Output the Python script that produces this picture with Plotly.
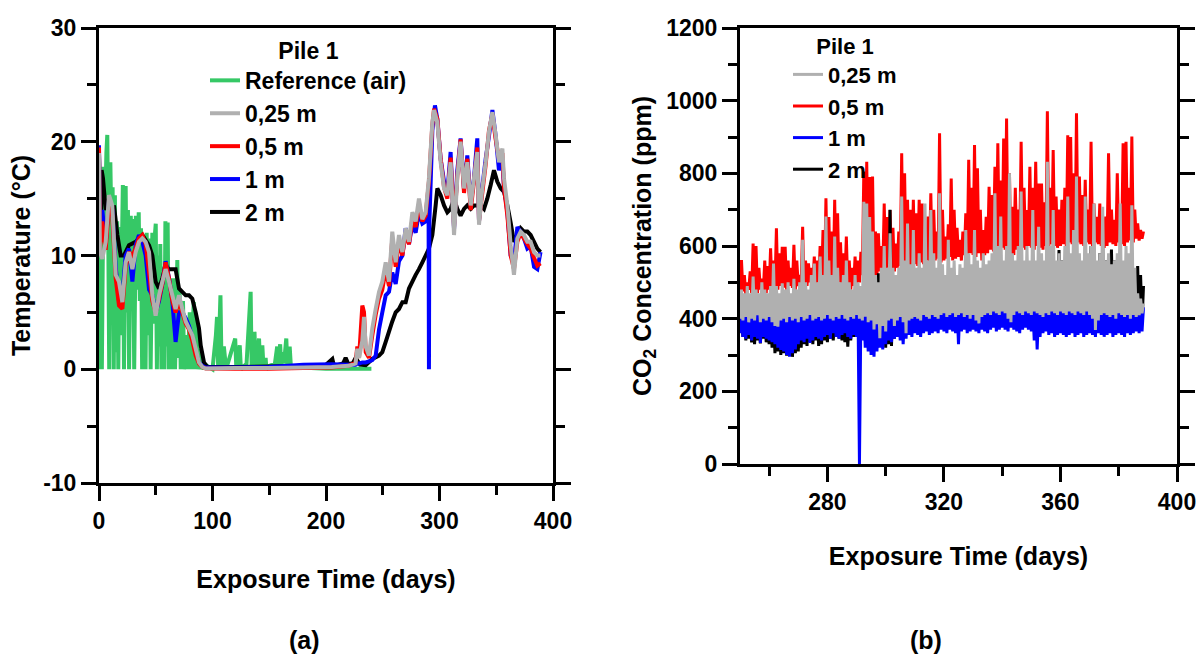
import plotly.graph_objects as go

# ---------------- Panel (a): temperature, Pile 1 ----------------
air_days = [0, 0.8, 1.5, 2.5, 4.0, 5.0, 6.5, 7.3, 8.0, 9.0,
            10, 11, 12, 13, 14, 15, 16, 17, 18, 19,
            21, 22, 23.5, 24.5, 25.5, 26.5, 28, 29, 30, 31,
            32.5, 33.5, 35, 36, 37, 38, 40, 41, 42, 43,
            44.5, 45.5, 47, 48, 49, 50, 51, 52, 53, 54,
            55, 56.5, 57.5, 58.5, 59.5, 60.5, 61.5, 63, 64, 66,
            67, 69, 70, 71, 72, 74, 75, 77, 78, 80,
            81, 83.5, 84.5, 86, 87, 89, 90, 92, 100, 103,
            104, 105, 107, 108, 110, 112, 120, 121, 124, 125,
            130, 133.6, 134.5, 137, 138, 141, 142, 143.9, 145, 146.8,
            147.5, 150, 155, 157, 158, 159.6, 160.5, 162, 163, 165,
            166, 168, 169, 170, 200, 240]
air_temp = [11.0, 0.0, 10.0, 0.0, 17.8, 12.0, 19.0, 20.6, 14.0, 0.0,
            18.2, 12.0, 16.0, 0.0, 15.3, 1.5, 13.0, 0.0, 12.5, 3.0,
            16.2, 0.0, 16.1, 5.0, 14.0, 0.0, 13.5, 7.0, 13.2, 0.0,
            13.5, 7.0, 13.8, 6.0, 12.4, 0.0, 11.5, 0.0, 12.0, 3.0,
            11.5, 0.0, 12.0, 4.0, 11.5, 12.8, 0.0, 10.0, 2.0, 11.0,
            0.0, 9.0, 0.0, 13.0, 2.0, 12.9, 0.0, 8.0, 0.0, 8.0,
            0.0, 9.6, 1.0, 7.0, 0.0, 6.0, 0.0, 3.0, 0.0, 5.0,
            0.0, 5.9, 0.0, 4.0, 0.0, 1.8, 0.0, 0.5, 0.0, 3.0,
            4.6, 0.0, 6.5, 0.0, 2.0, 0.0, 2.7, 0.0, 2.1, 0.0,
            0.5, 6.8, 0.0, 3.3, 0.0, 2.7, 0.0, 2.1, 0.0, 1.0,
            0.0, 0.3, 0.5, 2.0, 0.3, 2.2, 0.3, 1.5, 0.5, 2.7,
            0.3, 2.0, 0.3, 0.2, 0.05, 0.05]

soil_days = [0, 0.8, 2.9, 5.9, 8.8, 11.7, 14.7, 17.6, 20.6, 23.5,
             26.4, 29.4, 32.3, 35.2, 38.2, 41.1, 44.1, 47.0, 49.9, 52.9,
             55.8, 58.7, 61.7, 64.6, 67.5, 70.5, 73.4, 76.4, 79.3, 82.2,
             85.2, 88.1, 91.0, 94.0, 120, 150, 180, 205, 220, 226,
             227.6, 229.1, 232.0, 233.5, 235.0, 237.9, 240.8, 243.8, 246.7, 249.6,
             252.6, 255.5, 258.4, 261.4, 264.3, 267.3, 270.2, 273.1, 276.1, 279.0,
             281.9, 284.9, 287.8, 290.7, 293.7, 295.2, 298.1, 301.0, 304.0, 306.9,
             309.8, 312.8, 315.7, 318.6, 321.6, 324.5, 327.5, 330.4, 333.3, 334.8,
             337.7, 340.7, 343.6, 346.6, 349.5, 352.4, 355.4, 356.8, 359.8, 362.7,
             365.6, 368.6, 371.5, 374.4, 377.4, 380.3, 383.3, 386.2, 389.0]
temp_025m = [19.0, 10.3, 9.7, 11.2, 15.3, 14.4, 8.3, 7.7, 5.9, 9.4,
             10.3, 8.8, 10.3, 11.2, 11.5, 11.2, 10.3, 6.5, 4.7, 6.5,
             7.7, 8.8, 7.7, 6.5, 5.3, 6.5, 5.3, 4.2, 3.6, 3.0,
             1.8, 0.6, 0.2, 0.06, 0.1, 0.1, 0.15, 0.2, 0.3, 0.5,
             1.8, 1.0, 2.5, 4.6, 2.0, 1.2, 3.6, 5.3, 6.8, 7.7,
             9.4, 7.7, 12.1, 9.4, 11.8, 10.3, 12.4, 11.2, 13.8, 13.0,
             15.0, 13.2, 13.8, 16.8, 21.7, 22.8, 21.7, 18.2, 15.9, 15.3,
             18.2, 11.8, 16.8, 20.0, 15.9, 18.2, 14.4, 16.8, 19.1, 12.7,
             15.9, 18.2, 20.9, 22.6, 20.6, 18.2, 19.4, 16.8, 14.4, 10.9,
             8.3, 11.5, 12.1, 11.8, 11.2, 11.2, 10.3, 10.0, 10.0]
temp_05m = [19.5, 10.5, 13.0, 10.5, 14.5, 13.5, 8.0, 5.6, 5.3, 9.0,
            10.3, 10.0, 10.6, 11.5, 11.8, 11.0, 8.5, 6.0, 5.0, 6.2,
            7.5, 9.4, 8.0, 6.0, 5.0, 6.0, 5.0, 4.0, 3.5, 2.5,
            1.2, 0.5, 0.2, 0.06, 0.05, 0.05, 0.1, 0.15, 0.3, 0.6,
            2.0, 1.0, 5.6, 5.0, 1.5, 1.0, 3.0, 4.8, 6.2, 7.0,
            8.8, 7.3, 11.5, 9.0, 11.2, 10.0, 12.0, 11.0, 13.2, 12.5,
            14.5, 13.0, 13.5, 16.5, 21.5, 22.9, 22.0, 18.5, 16.0, 15.0,
            18.6, 12.5, 17.0, 20.2, 15.5, 18.5, 14.0, 16.5, 19.5, 13.0,
            15.5, 18.0, 21.0, 22.4, 20.2, 18.5, 19.0, 16.0, 13.5, 10.0,
            8.8, 11.2, 12.0, 11.5, 11.0, 10.6, 9.8, 9.1, 9.3]

days_1m = [0, 0.8, 2.9, 5.9, 8.8, 11.7, 14.7, 17.6, 20.6, 23.5,
           26.4, 29.4, 32.3, 35.2, 38.2, 41.1, 44.1, 47.0, 49.9, 52.9,
           55.8, 58.7, 61.7, 64.6, 67.5, 70.5, 73.4, 76.4, 79.3, 82.2,
           85.2, 88.1, 91.0, 94.0, 120, 150, 180, 205, 220, 226,
           227.6, 229.1, 232.0, 233.5, 235.0, 237.9, 240.8, 243.8, 246.7, 249.6,
           252.6, 255.5, 258.4, 261.4, 264.3, 267.3, 270.2, 273.1, 276.1, 279.0,
           281.9, 284.9, 287.8, 290.4, 290.7, 291.0, 293.7, 296.0, 298.1, 301.0,
           304.0, 306.9, 309.8, 312.8, 315.7, 318.6, 321.6, 324.5, 327.5, 330.4,
           333.3, 334.8, 337.7, 340.7, 343.6, 346.6, 349.5, 352.4, 355.4, 356.8,
           359.8, 362.7, 365.6, 368.6, 371.5, 374.4, 377.4, 380.3, 383.3, 386.2,
           389.0]
temp_1m = [19.7, 11.0, 14.0, 11.0, 14.8, 14.0, 9.0, 6.0, 6.5, 10.0,
           10.6, 7.7, 10.9, 11.8, 11.2, 10.0, 7.0, 6.5, 5.0, 6.0,
           7.5, 9.5, 8.0, 6.0, 2.4, 5.0, 5.0, 4.5, 3.8, 2.8,
           1.5, 0.6, 0.3, 0.15, 0.15, 0.2, 0.4, 0.45, 0.4, 0.4,
           0.5, 0.5, 0.6, 0.6, 0.6, 0.7, 0.8, 1.2, 3.5, 5.0,
           6.5, 6.8, 8.5, 7.5, 9.5, 10.0, 12.4, 11.0, 12.8, 12.0,
           13.8, 12.8, 13.0, 13.5, 0.0, 12.7, 21.0, 23.2, 22.0, 18.5,
           16.5, 15.5, 19.1, 12.3, 17.5, 20.3, 15.8, 18.8, 14.5, 16.8,
           20.3, 13.0, 16.0, 18.5, 20.5, 22.8, 20.5, 17.5, 18.5, 16.0,
           13.8, 10.0, 9.4, 12.5, 12.1, 11.5, 10.6, 10.8, 9.0, 8.8,
           10.3]

days_2m = [0, 1.5, 2.3, 3.5, 5.9, 8.8, 11.7, 13.2, 16.2, 19.1,
           22.0, 26.4, 32.3, 38.2, 44.1, 47.0, 49.9, 52.9, 55.8, 58.7,
           61.7, 64.6, 67.5, 70.5, 73.4, 76.4, 79.3, 82.2, 85.2, 88.1,
           89.6, 92.5, 95.4, 120, 150, 180, 200, 205.6, 207, 215,
           217.3, 220, 224, 226.1, 230, 235, 240.8, 246.7, 249.6, 252.6,
           255.5, 258.4, 261.4, 264.3, 267.3, 270.2, 273.1, 276.1, 279.0, 281.9,
           284.9, 287.8, 290.7, 293.7, 296.6, 298.1, 301.0, 304.0, 306.9, 309.8,
           312.8, 315.7, 318.6, 321.6, 324.5, 327.5, 330.4, 333.3, 336.3, 339.2,
           342.1, 345.1, 348.0, 350.9, 353.9, 356.8, 359.8, 362.7, 365.6, 368.6,
           371.5, 374.4, 377.4, 380.3, 383.3, 386.2, 389.0]
temp_2m = [19.0, 12.0, 17.5, 16.8, 14.0, 15.0, 14.0, 14.4, 11.8, 10.0,
           10.0, 10.9, 11.2, 11.8, 10.9, 10.0, 7.7, 7.1, 8.0, 9.1,
           8.8, 8.8, 8.8, 7.1, 6.8, 6.5, 6.5, 6.2, 5.0, 3.6,
           2.1, 0.6, 0.2, 0.2, 0.25, 0.3, 0.4, 0.9, 0.3, 0.5,
           1.0, 0.4, 0.6, 1.0, 0.4, 0.35, 0.9, 1.2, 1.5, 2.4,
           3.3, 4.2, 5.0, 5.3, 5.9, 5.9, 7.1, 7.7, 8.3, 8.8,
           9.4, 10.0, 10.6, 11.8, 14.4, 15.9, 15.3, 14.4, 13.8, 14.1,
           15.0, 14.1, 13.5, 14.1, 14.4, 14.1, 14.4, 14.4, 14.4, 14.1,
           15.0, 16.2, 17.5, 16.5, 15.9, 15.6, 14.4, 12.9, 11.2, 11.8,
           12.4, 12.1, 12.1, 11.8, 11.2, 10.6, 10.3]

temp_ticks = [-10, 0, 10, 20, 30]
temp_tick_labels = ["-10", "0", "10", "20", "30"]

# ---------------- Panel (b): CO2, Pile 1 (daily minimum / maximum) ----------------
co2_days = list(range(250, 389))

co2_05m_hi = [561, 520, 500, 530, 607, 600, 540, 510, 560, 545,
              594, 560, 649, 580, 598, 598, 560, 540, 603, 560,
              520, 653, 560, 552, 540, 571, 560, 600, 644, 731,
              680, 640, 727, 690, 610, 580, 626, 560, 540, 571,
              560, 584, 805, 832, 790, 791, 640, 635, 600, 717,
              680, 699, 650, 607, 640, 855, 800, 727, 700, 727,
              690, 727, 717, 650, 681, 745, 700, 640, 910, 700,
              626, 660, 786, 700, 650, 617, 640, 690, 837, 760,
              878, 814, 700, 644, 680, 763, 740, 818, 883, 780,
              896, 951, 800, 708, 760, 700, 887, 760, 699, 818,
              760, 832, 772, 772, 720, 971, 760, 864, 736, 700,
              727, 760, 905, 900, 800, 965, 791, 740, 782, 700,
              887, 717, 680, 717, 660, 681, 855, 700, 672, 800,
              700, 883, 887, 760, 901, 700, 662, 644, 640]
co2_05m_lo = [470, 475, 465, 480, 470, 475, 470, 480, 475, 470,
              480, 475, 485, 480, 490, 485, 480, 490, 485, 480,
              490, 495, 485, 490, 500, 495, 490, 500, 505, 500,
              510, 500, 505, 495, 500, 490, 495, 485, 480, 490,
              495, 500, 520, 530, 525, 520, 510, 520, 530, 525,
              530, 540, 535, 530, 540, 545, 540, 550, 545, 540,
              550, 545, 555, 550, 560, 555, 550, 560, 565, 555,
              560, 565, 570, 560, 565, 570, 560, 575, 570, 580,
              575, 570, 580, 560, 575, 580, 590, 585, 580, 590,
              595, 590, 580, 560, 575, 590, 600, 595, 590, 600,
              595, 590, 600, 595, 590, 600, 595, 605, 600, 595,
              600, 605, 600, 610, 605, 600, 610, 605, 600, 610,
              605, 600, 610, 605, 600, 595, 600, 610, 605, 600,
              610, 605, 600, 610, 615, 610, 620, 615, 620]

co2_025m_hi = [480, 470, 490, 470, 516, 480, 470, 500, 480, 470,
               490, 552, 490, 470, 497, 480, 500, 470, 510, 480,
               500, 617, 500, 480, 520, 552, 500, 571, 520, 681,
               560, 520, 626, 540, 500, 520, 560, 500, 480, 520,
               500, 490, 722, 717, 680, 640, 520, 500, 540, 600,
               540, 635, 540, 520, 540, 736, 560, 662, 550, 644,
               540, 580, 540, 717, 560, 699, 580, 540, 745, 550,
               520, 617, 540, 560, 520, 550, 540, 644, 580, 550,
               644, 560, 540, 580, 550, 560, 580, 745, 600, 681,
               560, 600, 800, 580, 560, 600, 750, 560, 600, 560,
               699, 560, 653, 580, 560, 832, 600, 699, 560, 580,
               560, 600, 736, 580, 644, 791, 580, 560, 736, 580,
               600, 717, 560, 580, 708, 560, 580, 550, 560, 580,
               717, 560, 600, 580, 712, 540, 470, 455, 442]
co2_025m_lo = [400, 395, 405, 390, 400, 395, 410, 390, 400, 395,
               405, 390, 380, 378, 395, 400, 390, 405, 395, 400,
               390, 405, 395, 400, 410, 395, 400, 405, 395, 400,
               410, 400, 395, 405, 400, 410, 400, 395, 405, 400,
               410, 400, 395, 405, 390, 395, 370, 385, 346, 380,
               365, 395, 400, 380, 395, 405, 390, 360, 395, 400,
               405, 400, 395, 410, 405, 400, 410, 405, 400, 410,
               415, 405, 410, 415, 405, 410, 415, 405, 410, 400,
               410, 395, 387, 405, 410, 415, 410, 420, 415, 410,
               420, 415, 400, 390, 410, 420, 415, 410, 420, 415,
               410, 420, 415, 410, 405, 415, 410, 420, 415, 410,
               420, 415, 410, 420, 415, 410, 420, 415, 410, 420,
               410, 400, 369, 395, 410, 415, 410, 405, 410, 400,
               415, 410, 405, 410, 400, 410, 405, 410, 415]

co2_1m_hi = [430, 425, 435, 420, 430, 428, 435, 422, 430, 425,
             432, 420, 428, 435, 425, 430, 420, 428, 432, 425,
             430, 422, 435, 428, 420, 430, 425, 432, 420, 428,
             435, 425, 430, 420, 428, 432, 425, 430, 422, 428,
             430, 420, 425, 440, 420, 410, 415, 405, 410, 420,
             415, 420, 410, 425, 420, 430, 415, 425, 420, 430,
             425, 435, 420, 430, 425, 432, 428, 420, 430, 520,
             430, 425, 435, 428, 430, 440, 432, 425, 435, 430,
             428, 435, 430, 425, 440, 432, 428, 435, 430, 425,
             435, 430, 440, 432, 428, 435, 440, 430, 425, 435,
             430, 428, 420, 432, 435, 428, 430, 425, 435, 430,
             428, 435, 430, 425, 432, 430, 428, 435, 430, 425,
             432, 428, 435, 430, 500, 428, 432, 425, 430, 435,
             428, 430, 425, 432, 430, 428, 435, 430, 432]
co2_1m_lo = [360, 350, 345, 355, 340, 350, 345, 333, 350, 345,
             340, 335, 330, 320, 314, 310, 300, 295, 305, 315,
             330, 340, 335, 345, 333, 340, 350, 345, 340, 350,
             355, 345, 360, 350, 345, 355, 360, 350, 345, 355,
             350, 0, 340, 320, 310, 300, 295, 310, 320, 315,
             330, 340, 335, 345, 350, 340, 330, 345, 355, 350,
             360, 355, 350, 360, 365, 355, 360, 365, 360, 370,
             365, 360, 370, 365, 360, 330, 365, 370, 360, 365,
             370, 365, 360, 370, 365, 360, 370, 375, 365, 370,
             375, 370, 365, 375, 370, 365, 360, 370, 375, 370,
             365, 340, 315, 350, 360, 365, 355, 360, 350, 355,
             360, 355, 350, 355, 360, 350, 355, 360, 350, 355,
             360, 355, 350, 360, 355, 350, 355, 360, 350, 355,
             360, 355, 350, 360, 355, 360, 365, 360, 365]

co2_2m_hi = [400, 395, 405, 390, 400, 410, 395, 400, 405, 395,
             400, 405, 395, 400, 390, 395, 400, 405, 395, 400,
             405, 395, 400, 410, 400, 395, 405, 400, 410, 405,
             410, 405, 400, 410, 405, 415, 410, 405, 400, 410,
             415, 420, 410, 425, 430, 440, 450, 525, 500, 470,
             480, 700, 460, 450, 470, 460, 450, 470, 460, 450,
             470, 480, 525, 500, 520, 470, 460, 450, 470, 460,
             470, 460, 450, 470, 480, 480, 470, 460, 470, 480,
             470, 460, 480, 470, 460, 480, 470, 460, 470, 480,
             470, 480, 470, 460, 480, 470, 480, 470, 460, 480,
             470, 480, 470, 460, 480, 470, 480, 470, 480, 589,
             560, 515, 480, 470, 480, 470, 480, 470, 480, 560,
             600, 540, 520, 580, 600, 560, 520, 590, 560, 500,
             480, 470, 480, 470, 480, 500, 545, 520, 490]
co2_2m_lo = [369, 350, 340, 345, 335, 330, 340, 332, 345, 335,
             330, 320, 305, 310, 300, 305, 298, 300, 295, 305,
             310, 320, 330, 325, 335, 330, 340, 325, 330, 340,
             335, 345, 340, 350, 345, 340, 335, 323, 340, 350,
             355, 345, 350, 340, 335, 330, 325, 320, 325, 330,
             320, 330, 325, 345, 360, 370, 365, 375, 370, 380,
             375, 380, 370, 380, 385, 375, 380, 385, 380, 390,
             385, 380, 390, 385, 380, 390, 385, 390, 380, 385,
             390, 385, 380, 390, 385, 390, 380, 385, 390, 385,
             390, 385, 390, 380, 385, 390, 385, 380, 390, 385,
             380, 385, 390, 385, 380, 390, 385, 390, 380, 385,
             390, 385, 380, 390, 385, 380, 390, 385, 380, 390,
             385, 390, 380, 385, 390, 385, 380, 390, 385, 380,
             390, 385, 380, 390, 385, 390, 385, 380, 390]

# ---------------- styling ----------------
FONT = "Liberation Sans, Arial, Helvetica, sans-serif"
GREEN = "#36c866"
GREY = "#b0b0b0"
RED = "#ff0000"
BLUE = "#0000ff"
BLACK = "#000000"
LW = 4
W, H = 1198, 655


def daily_path(days, lows, highs):
    """Daily minimum followed by daily maximum for each day."""
    xs, ys = [], []
    for d, lo, hi in zip(days, lows, highs):
        xs.extend([d, d + 0.5])
        ys.extend([lo, hi])
    return xs, ys


fig = go.Figure()

# Panel (a) traces (draw order: air, 2 m, 1 m, 0.5 m, 0.25 m)
fig.add_trace(go.Scatter(x=air_days, y=air_temp, name="Reference (air)", mode="lines",
                         line=dict(color=GREEN, width=LW, simplify=False),
                         xaxis="x", yaxis="y", legend="legend", legendrank=1))
fig.add_trace(go.Scatter(x=days_2m, y=temp_2m, name="2 m", mode="lines",
                         line=dict(color=BLACK, width=LW, simplify=False),
                         xaxis="x", yaxis="y", legend="legend", legendrank=5))
fig.add_trace(go.Scatter(x=days_1m, y=temp_1m, name="1 m", mode="lines",
                         line=dict(color=BLUE, width=LW, simplify=False),
                         xaxis="x", yaxis="y", legend="legend", legendrank=4))
fig.add_trace(go.Scatter(x=soil_days, y=temp_05m, name="0,5 m", mode="lines",
                         line=dict(color=RED, width=LW, simplify=False),
                         xaxis="x", yaxis="y", legend="legend", legendrank=3))
fig.add_trace(go.Scatter(x=soil_days, y=temp_025m, name="0,25 m", mode="lines",
                         line=dict(color=GREY, width=LW, simplify=False),
                         xaxis="x", yaxis="y", legend="legend", legendrank=2))

# Panel (b) traces (draw order: 0.5 m, 2 m, 1 m, 0.25 m)
for lows, highs, name, color, rank in [
    (co2_05m_lo, co2_05m_hi, "0,5 m", RED, 2),
    (co2_2m_lo, co2_2m_hi, "2 m", BLACK, 4),
    (co2_1m_lo, co2_1m_hi, "1 m", BLUE, 3),
    (co2_025m_lo, co2_025m_hi, "0,25 m", GREY, 1),
]:
    xs, ys = daily_path(co2_days, lows, highs)
    fig.add_trace(go.Scatter(x=xs, y=ys, name=name, mode="lines",
                             line=dict(color=color, width=3, simplify=False),
                             xaxis="x2", yaxis="y2", legend="legend2", legendrank=rank))

tickfont = dict(family=FONT, size=23, color="black", weight="bold")
titlefont = dict(family=FONT, size=25, color="black", weight="bold")


def axis(**kw):
    base = dict(showline=True, linewidth=3, linecolor="black", ticks="outside",
                ticklen=15, tickwidth=3, tickcolor="black", showgrid=False,
                zeroline=False, tickfont=tickfont, automargin=False, layer="above traces")
    base.update(kw)
    return base


def minor(dt):
    return dict(ticks="outside", ticklen=9, tickwidth=3, tickcolor="black",
                dtick=dt, showgrid=False)


def legend_font(size):
    return dict(family=FONT, size=size, color="black", weight="bold")


fig.update_layout(
    width=W, height=H, template="none",
    paper_bgcolor="white", plot_bgcolor="white",
    margin=dict(l=0, r=0, t=0, b=0),
    font=dict(family=FONT, color="black"),
    xaxis=axis(domain=[99 / W, 553 / W], range=[0, 400], dtick=100, tick0=0,
               minor=minor(50), mirror=True, anchor="y",
               title=dict(text="Exposure Time (days)", font=titlefont, standoff=38)),
    yaxis=axis(domain=[1 - 483 / H, 1 - 28 / H], range=[-10, 30],
               tickmode="array", tickvals=temp_ticks, ticktext=temp_tick_labels,
               minor=minor(5), mirror="ticks", anchor="x",
               title=dict(text="Temperature (°C)", font=titlefont, standoff=6)),
    xaxis2=axis(domain=[740 / W, 1177 / W], range=[250, 400], dtick=40, tick0=0,
                minor=minor(20), mirror=True, anchor="y2",
                title=dict(text="Exposure Time (days)", font=titlefont, standoff=34)),
    yaxis2=axis(domain=[1 - 464 / H, 1 - 28 / H], range=[0, 1200], dtick=200, tick0=0,
                minor=minor(100), mirror="ticks", anchor="x2",
                title=dict(text="CO<sub>2</sub> Concentration (ppm)", font=titlefont, standoff=8)),
    legend=dict(x=205 / W, y=1 - 29 / H, xanchor="left", yanchor="top",
                bgcolor="rgba(0,0,0,0)", borderwidth=0, traceorder="normal",
                font=legend_font(23),
                title=dict(text="Pile 1", side="top center", font=legend_font(23))),
    legend2=dict(x=788 / W, y=1 - 25 / H, xanchor="left", yanchor="top",
                 bgcolor="rgba(0,0,0,0)", borderwidth=0, traceorder="normal",
                 font=legend_font(22),
                 title=dict(text="Pile 1", side="top center", font=legend_font(22))),
    annotations=[
        dict(text="(a)", x=304 / W, y=1 - 640 / H, xref="paper", yref="paper",
             xanchor="center", yanchor="middle", showarrow=False,
             font=dict(family=FONT, size=25, color="black", weight="bold")),
        dict(text="(b)", x=926 / W, y=1 - 640 / H, xref="paper", yref="paper",
             xanchor="center", yanchor="middle", showarrow=False,
             font=dict(family=FONT, size=25, color="black", weight="bold")),
    ],
)

fig.write_html("out.html", config={"displayModeBar": False},
               post_script="document.body.style.margin='0';document.body.style.padding='0';")
